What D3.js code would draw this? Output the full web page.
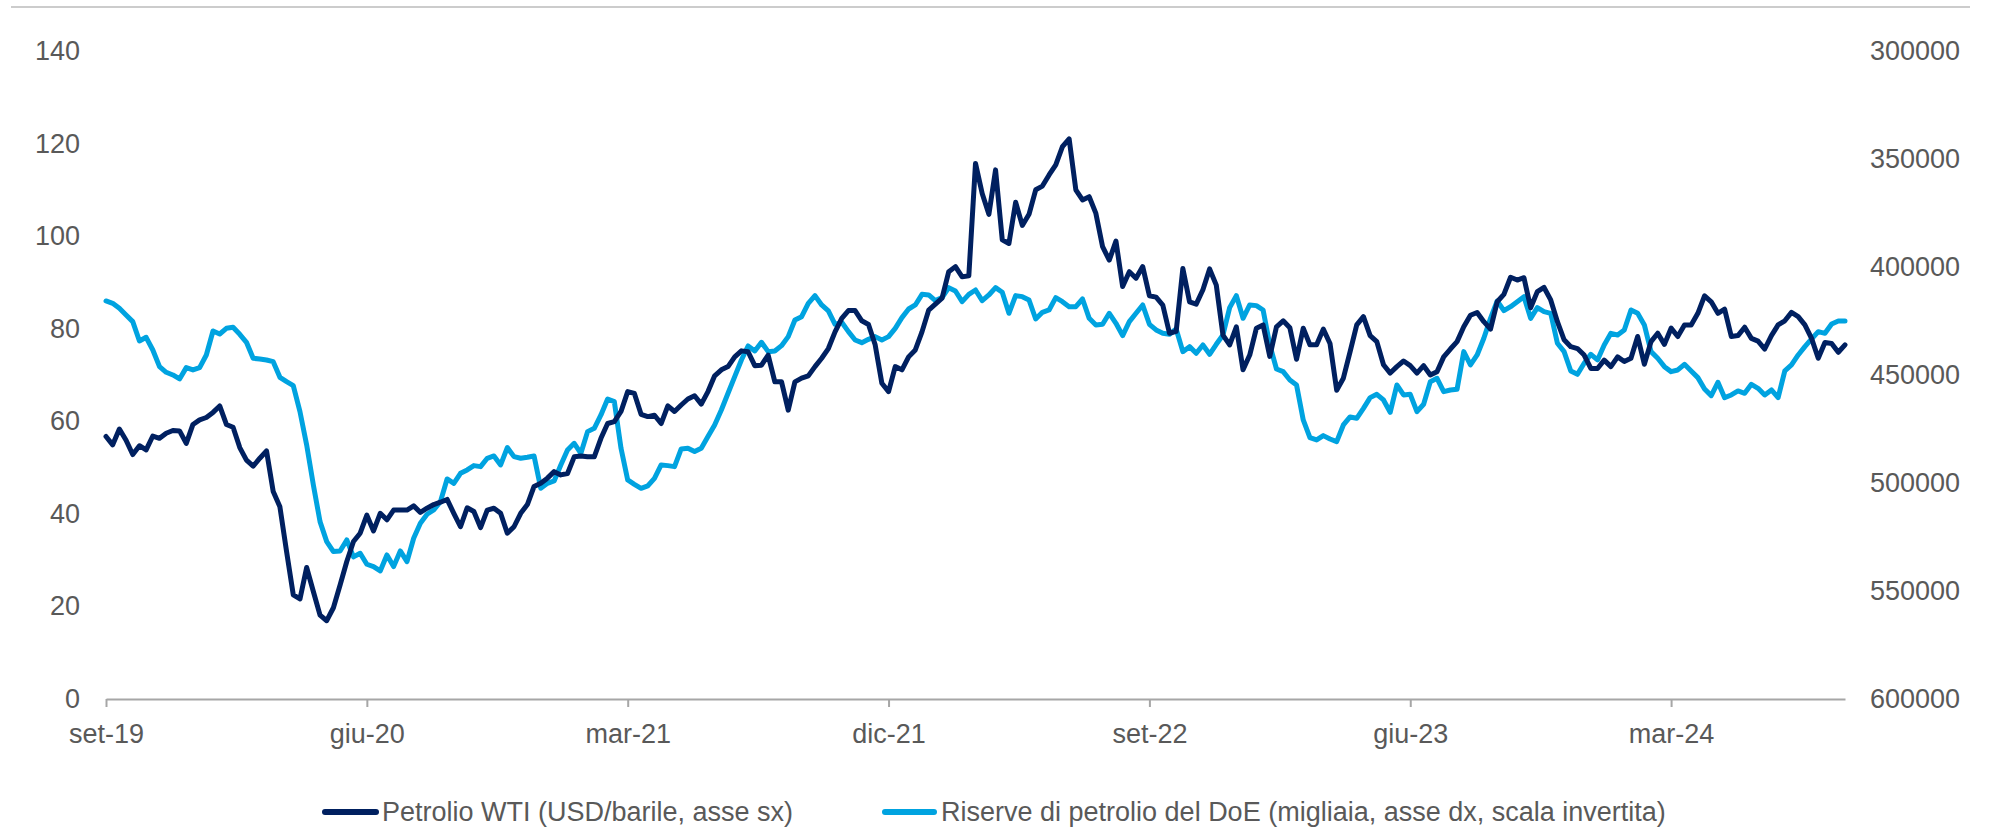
<!DOCTYPE html>
<html><head><meta charset="utf-8">
<script src="https://cdn.jsdelivr.net/npm/d3@7"></script>
<style>
body{margin:0;background:#fff;}
svg{display:block;}
text{font-family:"Liberation Sans",Arial,sans-serif;fill:#595959;}
</style>
</head><body>
<svg id="chart" width="1989" height="827"></svg>
<script>
// weekly observations starting from this date
const startDate = "2019-09-06";

// Petrolio WTI (USD/barile)
const wti = [
56.5,54.7,58.1,55.7,52.6,54.5,53.6,56.6,56.1,57.2,
57.8,57.7,55.0,59.1,60.1,60.6,61.7,63.1,59.1,58.5,
54.1,51.4,50.1,51.8,53.4,44.6,41.3,31.6,22.3,21.4,
28.2,23.0,17.9,16.7,19.5,24.4,29.5,33.8,35.6,39.5,
36.1,39.9,38.5,40.6,40.6,40.6,41.5,40.1,41.0,41.8,
42.3,42.9,39.9,37.0,41.1,40.3,36.8,40.6,41.0,39.9,
35.6,37.0,39.9,41.8,45.7,46.4,47.5,48.9,48.2,48.5,
52.1,52.3,52.1,52.1,56.1,59.3,59.7,61.9,66.2,65.8,
61.3,60.8,61.1,59.3,63.1,61.9,63.3,64.6,65.3,63.5,
66.2,69.6,70.9,71.6,73.7,75.0,74.8,71.8,71.9,74.1,
68.3,68.3,62.2,68.3,69.1,69.6,71.6,73.4,75.5,79.1,
82.0,83.7,83.7,81.5,80.7,76.3,68.0,66.2,71.6,70.9,
73.7,75.2,79.1,83.8,85.1,86.4,92.1,93.2,91.0,91.2,
115.5,109.0,104.5,114.1,99.0,98.2,107.1,102.1,104.5,109.8,
110.6,113.0,115.2,119.1,120.8,109.8,107.6,108.3,104.7,97.5,
94.6,98.7,88.9,92.1,90.7,93.2,86.9,86.6,84.9,78.8,
79.2,92.8,85.6,85.1,88.2,92.7,89.2,78.4,76.3,80.2,
70.9,74.1,79.9,80.6,73.8,80.2,81.5,80.0,73.2,79.9,
76.3,76.3,79.7,76.6,66.5,69.1,74.8,80.6,82.4,78.3,
77.0,72.0,70.2,71.6,72.8,71.8,70.2,71.8,69.8,70.5,
73.7,75.4,77.0,80.2,82.7,83.3,81.3,79.7,85.6,87.2,
90.9,90.3,90.8,84.3,87.8,88.7,86.0,81.3,77.4,75.9,
75.5,74.1,71.2,71.2,73.0,71.6,73.7,72.7,73.4,78.1,
72.1,77.0,78.8,76.4,79.9,78.1,80.6,80.6,83.1,86.9,
85.6,83.1,84.0,78.1,78.3,80.1,77.7,77.1,75.4,78.3,
80.6,81.5,83.3,82.4,80.6,77.7,73.4,76.8,76.6,74.7,76.3
];

// Riserve di petrolio del DoE (migliaia)
const reserves = [
416190,417270,419590,422670,425760,434710,433010,438880,446590,449210,
450450,452300,447050,448130,447050,441190,430080,431470,428850,428380,
431620,435330,442730,443040,443500,444280,451530,453530,455380,467420,
482850,501360,518330,527590,532220,531910,526820,534690,532990,538080,
539170,541170,533770,539170,531910,536850,526050,519110,514940,512940,
509080,498590,500600,495970,494420,492420,492880,489020,487940,492110,
484080,488250,489020,488560,487940,502910,500600,499520,492110,485160,
482080,486710,476680,475140,468960,461560,462790,484390,499050,501060,
502910,501830,498280,492110,492420,492880,484700,484390,485930,484390,
478990,473590,466650,458930,451220,443500,437020,439340,435330,439650,
439340,436870,432700,424990,423450,417270,413720,418040,420820,426990,
426070,430390,434240,435480,433940,432700,434240,432700,428850,423910,
419900,418040,413110,413410,416040,414650,410020,411560,416500,413110,
411100,416040,413410,410020,412180,421900,413720,414190,415730,424520,
421440,420360,414650,416500,418820,418820,415270,424220,427300,426990,
421900,426530,432240,425760,421900,418040,426990,429610,431160,431620,
429150,439650,437330,440420,436560,440880,436250,431930,419280,413720,
424220,418040,418350,420360,436560,447670,448900,452760,455080,471280,
479450,480540,478530,480070,481310,473590,469890,470510,465880,460940,
459390,462020,467730,455080,459710,459390,467420,464000,453540,451990,
458160,457390,457080,439650,445820,441190,433470,424220,416190,420670,
418820,416500,414190,424220,419280,421130,421900,435790,439650,448600,
450140,445050,440880,443500,436560,431160,431930,429610,420360,421900,
427300,439650,442730,446590,448900,448130,445510,448600,451680,456930,
460010,453840,460940,459710,457850,458930,454770,456620,459710,457390,
460940,448600,445820,441190,437330,433780,430390,431160,426840,425450,425450
];

const tickIndex = [0,39,78,117,156,195,234];
const tickLabels = ["set-19","giu-20","mar-21","dic-21","set-22","giu-23","mar-24"];
const leftTicks = [0,20,40,60,80,100,120,140];
const rightTicks = [300000,350000,400000,450000,500000,550000,600000];
const seriesNames = ["Petrolio WTI (USD/barile, asse sx)","Riserve di petrolio del DoE (migliaia, asse dx, scala invertita)"];
const seriesColors = ["#002060","#00a3e0"];

const parse = d3.utcParse("%Y-%m-%d");
const t0 = parse(startDate);
const dates = wti.map((_, i) => d3.utcDay.offset(t0, 7 * i));

const svg = d3.select("#chart");
svg.append("rect").attr("width",1989).attr("height",827).attr("fill","#fff");

const x = d3.scaleUtc().domain([dates[0], dates[dates.length-1]]).range([106, 1845]);
const yL = d3.scaleLinear().domain([0,140]).range([698,50]);
const yR = d3.scaleLinear().domain([300000,600000]).range([50,698]);

// top border line
svg.append("line").attr("x1",11).attr("x2",1970).attr("y1",7).attr("y2",7)
  .attr("stroke","#cccccc").attr("stroke-width",2);

// x axis
const gx = svg.append("g").attr("transform","translate(0,699)")
  .call(d3.axisBottom(x).tickValues(tickIndex.map(i=>dates[i]))
    .tickFormat((d,i)=>tickLabels[i]).tickSize(8).tickSizeOuter(0));
gx.select(".domain").attr("stroke","#a6a6a6").attr("stroke-width",2);
gx.selectAll(".tick line").attr("stroke","#a6a6a6").attr("stroke-width",2);
gx.selectAll(".tick text").attr("y",44).attr("dy",0).attr("font-size",27)
  .attr("fill","#595959").attr("font-family","Liberation Sans, Arial, sans-serif");

// left axis
const gl = svg.append("g").attr("transform","translate(80,0)")
  .call(d3.axisLeft(yL).tickValues(leftTicks).tickSize(0).tickPadding(0));
gl.select(".domain").remove();
gl.selectAll(".tick text").attr("font-size",27).attr("dy","0.35em")
  .attr("fill","#595959").attr("font-family","Liberation Sans, Arial, sans-serif");

// right axis
const gr = svg.append("g").attr("transform","translate(1870,0)")
  .call(d3.axisRight(yR).tickValues(rightTicks).tickFormat(d3.format("d")).tickSize(0).tickPadding(0));
gr.select(".domain").remove();
gr.selectAll(".tick text").attr("font-size",27).attr("dy","0.35em")
  .attr("fill","#595959").attr("font-family","Liberation Sans, Arial, sans-serif");

// lines
const lineR = d3.line().x((d,i)=>x(dates[i])).y(d=>yR(d));
const lineL = d3.line().x((d,i)=>x(dates[i])).y(d=>yL(d));
svg.append("path").datum(reserves).attr("d",lineR).attr("fill","none")
  .attr("stroke",seriesColors[1]).attr("stroke-width",5)
  .attr("stroke-linejoin","round").attr("stroke-linecap","round");
svg.append("path").datum(wti).attr("d",lineL).attr("fill","none")
  .attr("stroke",seriesColors[0]).attr("stroke-width",5)
  .attr("stroke-linejoin","round").attr("stroke-linecap","round");

// legend
const legendItems = [
  {x1:322, x2:379, tx:382},
  {x1:882, x2:937, tx:941}
];
const lg = svg.append("g");
legendItems.forEach((it, k) => {
  lg.append("line").attr("x1",it.x1+3).attr("x2",it.x2-3).attr("y1",812).attr("y2",812)
    .attr("stroke",seriesColors[k]).attr("stroke-width",6).attr("stroke-linecap","round");
  lg.append("text").attr("x",it.tx).attr("y",812).attr("dy","0.35em")
    .attr("font-size",27).text(seriesNames[k]);
});
</script>
</body></html>
